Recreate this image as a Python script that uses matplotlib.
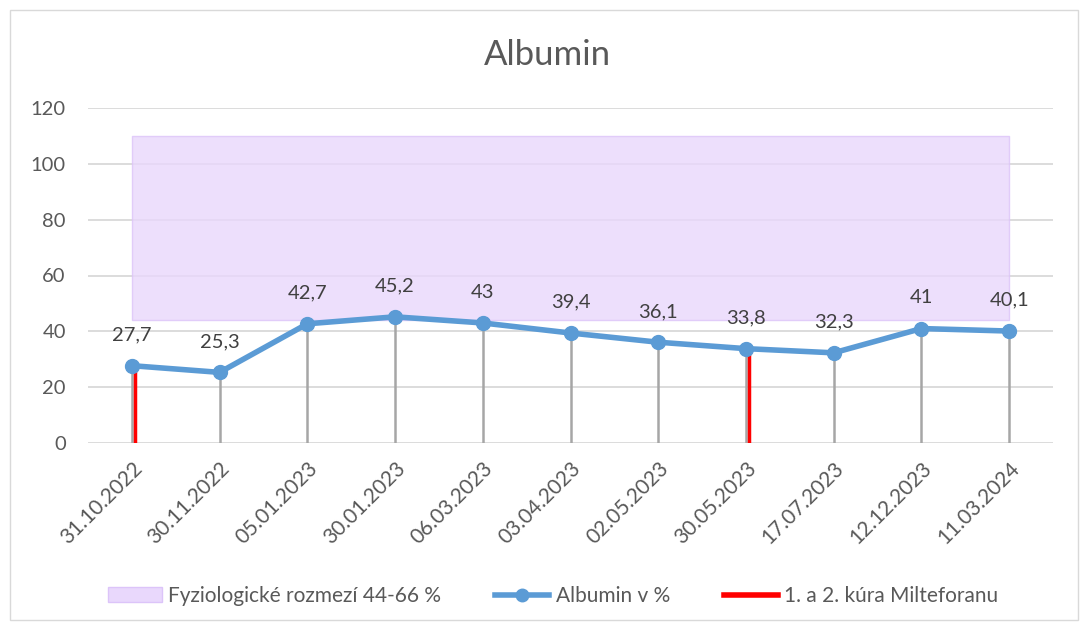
import matplotlib
matplotlib.use("Agg")
import matplotlib.pyplot as plt
import matplotlib.transforms as mtransforms
from matplotlib.lines import Line2D
from matplotlib.patches import Patch, Rectangle

dates = ["31.10.2022", "30.11.2022", "05.01.2023", "30.01.2023", "06.03.2023",
         "03.04.2023", "02.05.2023", "30.05.2023", "17.07.2023", "12.12.2023", "11.03.2024"]
albumin = [27.7, 25.3, 42.7, 45.2, 43, 39.4, 36.1, 33.8, 32.3, 41, 40.1]
labels = ["27,7", "25,3", "42,7", "45,2", "43", "39,4", "36,1", "33,8", "32,3", "41", "40,1"]
band_low = 44
band_high = 110
treatment_idx = [0, 7]
yticks = [0, 20, 40, 60, 80, 100, 120]

plt.rcParams['font.family'] = ['Lato', 'DejaVu Sans']
txt = "#595959"

fig = plt.figure(figsize=(10.85, 6.28), dpi=100)
fig.patches.append(Rectangle((10/1085, 1-620/628), 1068/1085, 610/628, transform=fig.transFigure,
                             fill=False, edgecolor="#d9d9d9", lw=1))
ax = fig.add_axes([88/1085, 1-443/628, (1053-88)/1085, (443-108)/628])

x = list(range(len(dates)))
ax.fill_between([x[0], x[-1]], band_low, band_high, color="#e9d8fc", alpha=0.8,
                edgecolor="#dcc4f9", lw=1, zorder=1)

for xi, v in zip(x, albumin):
    ax.plot([xi, xi], [0, v], color="#a6a6a6", lw=1.8, zorder=2)

off = mtransforms.offset_copy(ax.transData, fig=fig, x=3, y=0, units='dots')
for i in treatment_idx:
    ax.plot([x[i], x[i]], [0, albumin[i]], color="#ff0000", lw=2.5, transform=off, zorder=3,
            solid_capstyle='butt')

ax.plot(x, albumin, color="#5b9bd5", lw=4, marker="o", ms=10, zorder=4)

for xi, v, lab in zip(x, albumin, labels):
    ax.annotate(lab, (xi, v), xytext=(0, 16), textcoords="offset points", ha="center",
                va="bottom", fontsize=14.5, color="#404040")

ax.set_xlim(-0.5, len(dates) - 0.5)
ax.set_ylim(0, 120)
ax.set_yticks(yticks)
ax.set_yticklabels([str(t) for t in yticks], fontsize=14.5, color=txt)
ax.set_xticks(x)
ax.set_xticklabels(dates, rotation=45, ha="right", rotation_mode="anchor", fontsize=15, color=txt)
ax.tick_params(axis='y', length=0, pad=16)
ax.tick_params(axis='x', length=0, pad=11)
ax.grid(axis='y', color="#d9d9d9", lw=1.3, zorder=0)
ax.set_axisbelow(True)
for s in ax.spines.values():
    s.set_visible(False)

fig.text(547/1085, 1-55/628, "Albumin", ha="center", va="center", fontsize=25, color=txt)

handles = [Patch(facecolor="#e9d8fc", edgecolor="#dcc4f9"),
           Line2D([], [], color="#5b9bd5", lw=4, marker="o", ms=9),
           Line2D([], [], color="#ff0000", lw=4)]
names = ["Fyziologické rozmezí 44-66 %", "Albumin v %", "1. a 2. kúra Milteforanu"]
fig.legend(handles, names, loc="center", bbox_to_anchor=(553/1085, 1-596/628), ncol=3,
           frameon=False, fontsize=15, labelcolor=txt, handlelength=2.6, columnspacing=2.6,
           handletextpad=0.3)

fig.savefig("out.png", dpi=100)
